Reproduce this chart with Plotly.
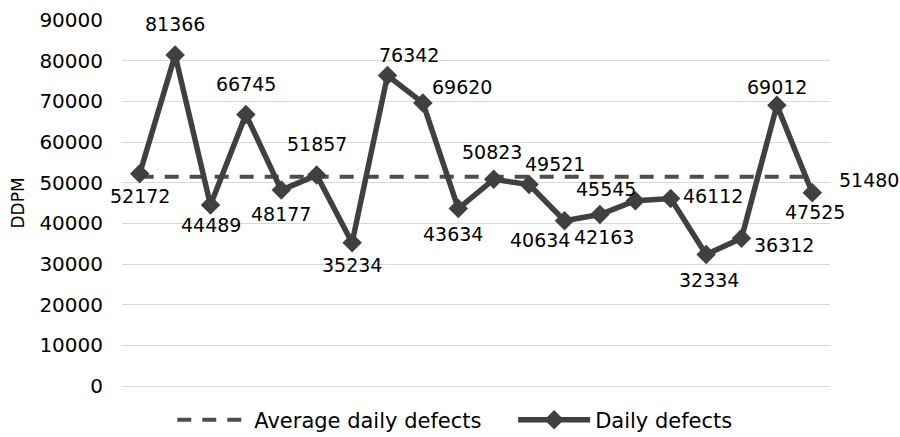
import plotly.graph_objects as go

days = list(range(1, 21))
daily_defects = [52172, 81366, 44489, 66745, 48177, 51857, 35234, 76342, 69620, 43634,
                 50823, 49521, 40634, 42163, 45545, 46112, 32334, 36312, 69012, 47525]
average_value = 51480
average_line = [average_value] * len(days)

# label offsets in screen pixels (dx right, dy down)
label_dx = [0, 0, 0, 0, 0, 0, 0, 21, 39, -5, -2, 26, -25, 4, -29, 42, 3, 42, 0, 3]
label_dy = [22, -31, 20, -31, 24, -31, 22, -21, -16, 25, -27, -21, 19, 22, -12, -2, 25, 7, -18, 19]

FONT = "DejaVu Sans"
LINE_COLOR = "#404040"

fig = go.Figure()
fig.add_trace(go.Scatter(
    x=days, y=average_line, mode="lines", name="Average daily defects\u00a0\u00a0\u00a0\u00a0",
    line=dict(color="#4d4d4d", width=4, dash="14px,11px"),
    hoverinfo="skip",
))
fig.add_trace(go.Scatter(
    x=days, y=daily_defects, mode="lines+markers", name="Daily defects",
    line=dict(color=LINE_COLOR, width=5.5),
    marker=dict(symbol="diamond", size=15, color=LINE_COLOR),
))

annotations = []
for d, v, dx, dy in zip(days, daily_defects, label_dx, label_dy):
    annotations.append(dict(
        x=d, y=v, xref="x", yref="y", text=str(v), showarrow=False,
        xanchor="center", yanchor="middle", xshift=dx, yshift=-dy,
        font=dict(family=FONT, size=19, color="#000000"),
    ))
annotations.append(dict(
    x=days[-1], y=average_value, xref="x", yref="y", text=str(average_value),
    showarrow=False, xanchor="center", yanchor="middle", xshift=57, yshift=-3,
    font=dict(family=FONT, size=19, color="#000000"),
))

fig.update_layout(
    width=900, height=437,
    margin=dict(l=122, r=70, t=20, b=51, autoexpand=False),
    paper_bgcolor="white", plot_bgcolor="white",
    font=dict(family=FONT, size=20, color="#000000"),
    showlegend=True,
    legend=dict(orientation="h", x=0.47, xanchor="center", y=-0.093, yanchor="middle",
                font=dict(family=FONT, size=21, color="#000000"),
                itemwidth=72, tracegroupgap=0, bgcolor="rgba(0,0,0,0)"),
    annotations=annotations,
    xaxis=dict(range=[0.5, 20.5], showticklabels=False, showgrid=False,
               zeroline=False, showline=False, ticks=""),
    yaxis=dict(range=[0, 90000], dtick=10000, tickformat="d",
               gridcolor="#d9d9d9", gridwidth=1.3, zeroline=True,
               zerolinecolor="#d9d9d9", zerolinewidth=1.3, showline=False,
               ticks="", ticklabelstandoff=18,
               tickfont=dict(family=FONT, size=20, color="#000000"),
               title=dict(text="DDPM", standoff=10,
                          font=dict(family=FONT, size=17, color="#000000"))),
)

fig.write_html("out.html")
